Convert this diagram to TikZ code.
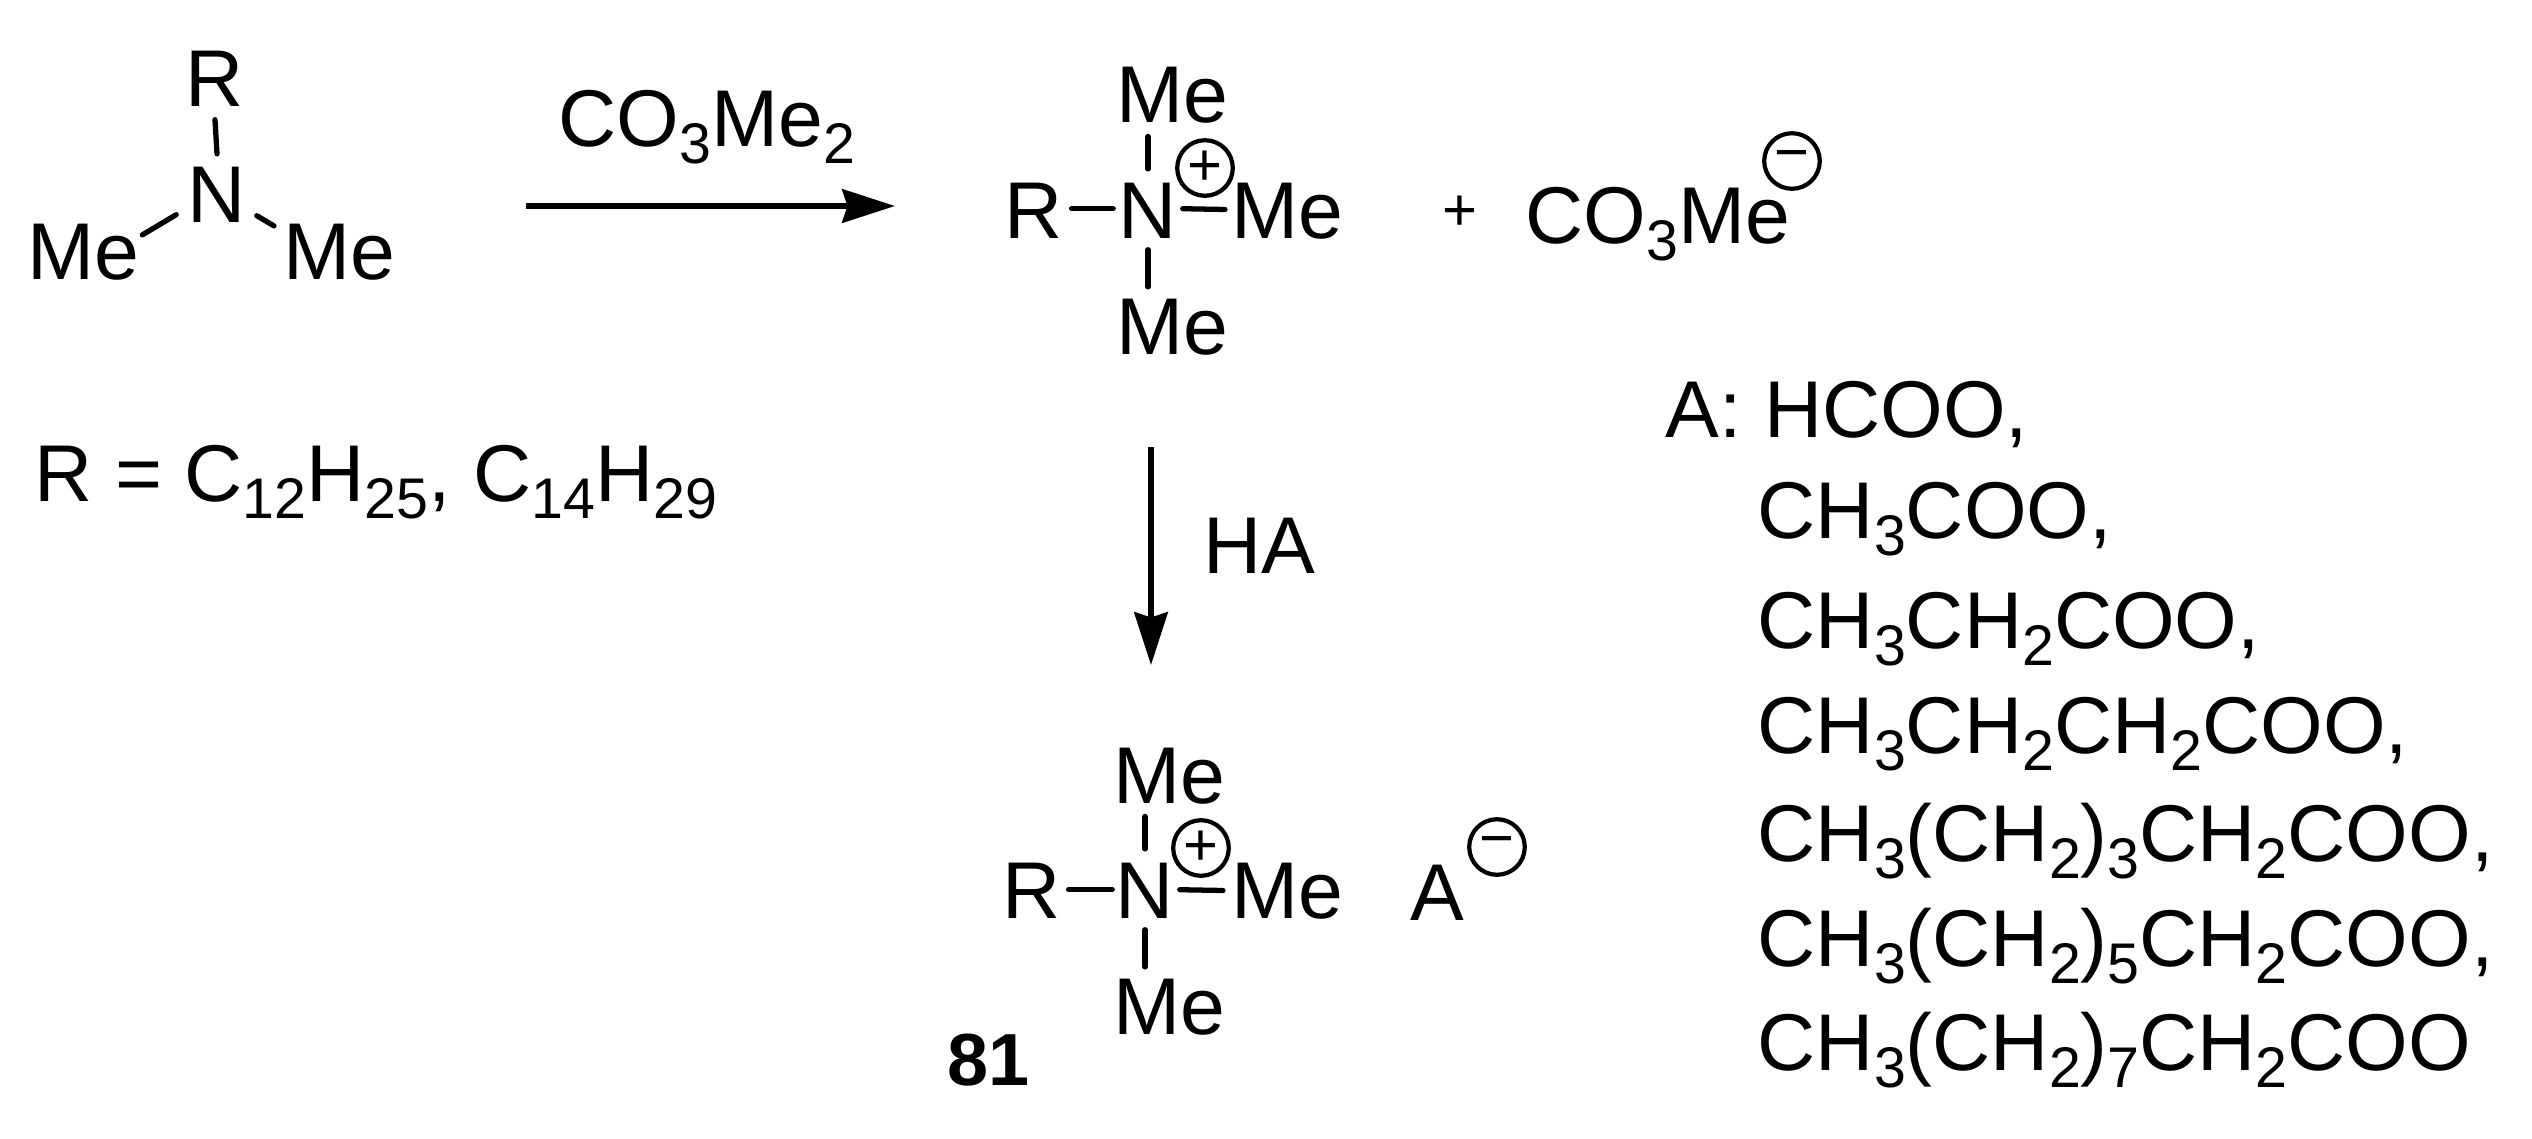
\documentclass[tikz,border=0pt]{standalone}
\usepackage{fontspec}
\setmainfont{Liberation Sans}
\usetikzlibrary{arrows.meta}
\newcommand{\sbs}[1]{\raisebox{-5pt}{\fontsize{16.3}{16.3}\selectfont #1}}
\tikzset{
  txt/.style={inner sep=0, anchor=base west, font=\fontsize{22.9}{26}\selectfont},
  atom/.style={txt, anchor=base},
  bond/.style={line width=1.5pt, line cap=round},
  react/.style={line width=1.7pt, -{Stealth[length=15pt, width=9.5pt, inset=1.5pt]}},
  chg/.style={circle, draw, line width=1.2pt, inner sep=0, minimum size=15.8pt, font=\fontsize{17}{17}\selectfont}
}
\begin{document}
\begin{tikzpicture}[x=0.01cm, y=-0.01cm]
\useasboundingbox (0,0) rectangle (2532,1139);
\node[atom] (rtop) at (215,106){R};
\node[atom] (ntop) at (217,222){N};
\node[txt] (meleft) at (27,279){Me};
\node[txt] (meright) at (283,279){Me};
\draw[bond] ([shift={(0,13)}]rtop.south) -- ([shift={(0,-12)}]ntop.north);
\draw[bond] ([shift={(2,12)}]meleft.north east) -- ([shift={(-11,-8)}]ntop.south west);
\draw[bond] ([shift={(10,-7)}]ntop.south east) -- ([shift={(-9,3)}]meright.north west);
\node[txt] (reagent) at (558,146){CO\sbs{3}Me\sbs{2}};
\coordinate (arrowas) at (526,206);
\coordinate (arrowae) at (895,206);
\draw[react] (arrowas) -- (arrowae);
\node[txt] (rdef) at (34,501){R = C\sbs{12}H\sbs{25}, C\sbs{14}H\sbs{29}};
% ammonium salt
\node[txt] (rmid) at (1004,238){R};
\node[atom] (nmid) at (1148,238){N};
\node[txt] (memidr) at (1231,238){Me};
\node[atom] (memidt) at (1172,122){Me};
\node[atom] (memidb) at (1172,354){Me};
\draw[bond] ([shift={(8,-30)}]rmid.south east) -- ([shift={(-5,-30)}]nmid.south west);
\draw[bond] ([shift={(5,-30)}]nmid.south east) -- ([shift={(-6,-30)}]memidr.south west);
\draw[bond] ([shift={(-24,13)}]memidt.south) -- ([shift={(0,-13)}]nmid.north);
\draw[bond] ([shift={(0,11)}]nmid.south) -- ([shift={(-24,-11)}]memidb.north);
\node[chg] (plusa) at (1205,168){+};
\node[font=\fontsize{17}{17}\selectfont, inner sep=0] (plussign) at (1460,213){+};
\node[txt] (anion) at (1525,243){CO\sbs{3}Me};
\node[chg] (minusa) at (1792,161){−};
\coordinate (arrowbs) at (1151,447);
\coordinate (arrowbe) at (1151,665);
\draw[react] (arrowbs) -- (arrowbe);
\node[txt] (acid) at (1203,573){HA};
% product
\node[txt] (rbot) at (1002,918){R};
\node[atom] (nbot) at (1145,918){N};
\node[txt] (mebotr) at (1231,918){Me};
\node[atom] (mebott) at (1169,803){Me};
\node[atom] (mebotb) at (1169,1034){Me};
\draw[bond] ([shift={(7,-29)}]rbot.south east) -- ([shift={(-3,-29)}]nbot.south west);
\draw[bond] ([shift={(5,-29)}]nbot.south east) -- ([shift={(-8,-29)}]mebotr.south west);
\draw[bond] ([shift={(-24,12)}]mebott.south) -- ([shift={(0,-13)}]nbot.north);
\draw[bond] ([shift={(0,11)}]nbot.south) -- ([shift={(-24,-11)}]mebotb.north);
\node[chg] (plusb) at (1201,848){+};
\node[txt] (anionb) at (1410,920){A};
\node[chg] (minusb) at (1497,847){−};
\node[txt, font=\fontsize{21}{24}\selectfont\bfseries] (cmpd) at (947,1085){81};
% counter ions
\node[txt] (alist) at (1665,437){A: HCOO,};
\node[txt] (ion1) at (1757,538){CH\sbs{3}COO,};
\node[txt] (ion2) at (1757,648){CH\sbs{3}CH\sbs{2}COO,};
\node[txt] (ion3) at (1757,753){CH\sbs{3}CH\sbs{2}CH\sbs{2}COO,};
\node[txt] (ion4) at (1757,861){CH\sbs{3}(CH\sbs{2})\sbs{3}CH\sbs{2}COO,};
\node[txt] (ion5) at (1757,966){CH\sbs{3}(CH\sbs{2})\sbs{5}CH\sbs{2}COO,};
\node[txt] (ion6) at (1757,1070){CH\sbs{3}(CH\sbs{2})\sbs{7}CH\sbs{2}COO};
\end{tikzpicture}
\end{document}
